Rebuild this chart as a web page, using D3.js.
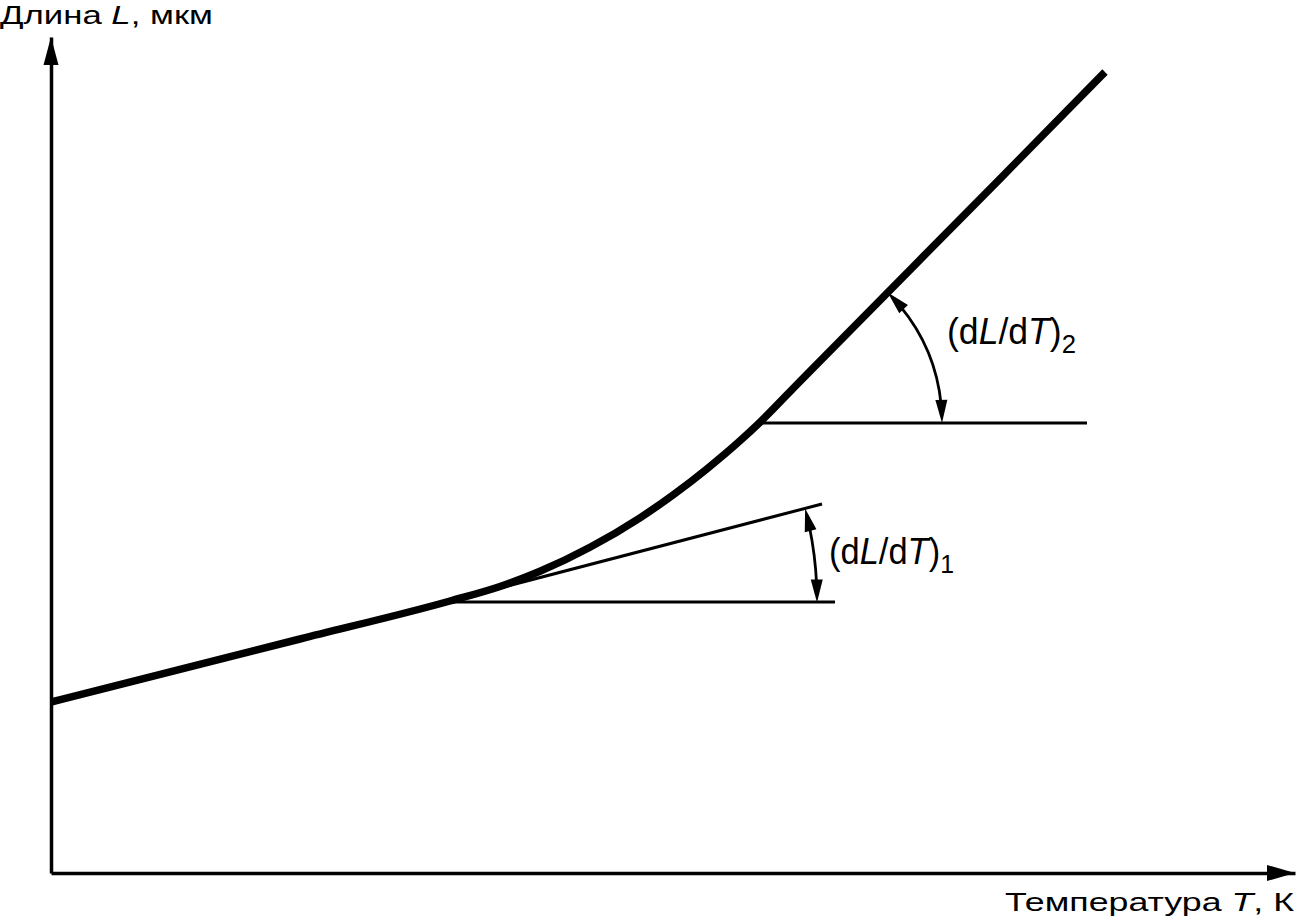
<!DOCTYPE html>
<html>
<head>
<meta charset="utf-8">
<script src="https://cdn.jsdelivr.net/npm/d3@7"></script>
<style>
  html, body { margin: 0; padding: 0; background: #fff; }
  svg { display: block; }
  text { font-family: "Liberation Sans", Arial, sans-serif; fill: #000; }
</style>
</head>
<body>
<svg id="chart" width="1297" height="924"></svg>
<script>
// ---- data (arbitrary units) ----
const curveT = [0, 24.9, 39.9, 44.9, 48.9, 53.9, 58.9, 62.2, 65.6, 68.9, 70.9, 74.9, 94.9, 105.4];
const curveL = [17.1, 23.4, 27.2, 28.65, 30.17, 32.57, 35.52, 37.8, 40.42, 43.22, 45.08, 49.17, 69.42, 80.1];

// tangent at first transition point
const tangent1T = [39.9, 77.1];
const tangent1L = [27.2, 36.9];
// horizontal reference lines
const horiz1T = [39.9, 78.4];
const horiz1L = [27.1, 27.1];
const horiz2T = [70.9, 103.6];
const horiz2L = [45.0, 45.0];
// second slope (the upper straight part of the curve)
const slope2T = [70.9, 105.4];
const slope2L = [45.08, 80.1];
// angle arc radii (in T units)
const arc1R = 36.7;
const arc2R = 18.2;

const labelY = ["Длина ", "L", ", мкм"];
const labelX = ["Температура ", "T", ", К"];

// ---- scales ----
const x = d3.scaleLinear().domain([0, 124.4]).range([51, 1295]);
const y = d3.scaleLinear().domain([0, 83.6]).range([873, 37]);

const svg = d3.select("#chart");

// axes (no ticks, just the axis lines)
svg.append("g").attr("transform", `translate(${x(0)},0)`)
  .call(d3.axisLeft(y).tickValues([]).tickSizeOuter(0))
  .select(".domain").attr("stroke", "#000").attr("stroke-width", 3.5);
svg.append("g").attr("transform", `translate(0,${y(0)})`)
  .call(d3.axisBottom(x).tickValues([]).tickSizeOuter(0))
  .select(".domain").attr("stroke", "#000").attr("stroke-width", 3.5);

function arrowHead(tipX, tipY, dirX, dirY, len, half) {
  const n = Math.hypot(dirX, dirY); dirX /= n; dirY /= n;
  const bx = tipX - dirX * len, by = tipY - dirY * len;
  const px = -dirY, py = dirX;
  return `M${tipX},${tipY}L${bx + px * half},${by + py * half}L${bx - px * half},${by - py * half}Z`;
}
// axis arrowheads
svg.append("path").attr("d", arrowHead(x(0), y(83.6), 0, -1, 28, 7.5)).attr("fill", "#000");
svg.append("path").attr("d", arrowHead(x(124.4), y(0), 1, 0, 28, 8)).attr("fill", "#000");

// main curve
const pts = curveT.map((t, i) => [x(t), y(curveL[i])]);
svg.append("path")
  .attr("d", d3.line().curve(d3.curveMonotoneX)(pts))
  .attr("fill", "none").attr("stroke", "#000").attr("stroke-width", 7.5)
  .attr("stroke-linecap", "butt").attr("stroke-linejoin", "round");

// helper lines
function seg(ts, ls, w) {
  svg.append("line")
    .attr("x1", x(ts[0])).attr("y1", y(ls[0]))
    .attr("x2", x(ts[1])).attr("y2", y(ls[1]))
    .attr("stroke", "#000").attr("stroke-width", w);
}
seg(tangent1T, tangent1L, 3);
seg(horiz1T, horiz1L, 3.2);
seg(horiz2T, horiz2L, 3.2);

// angle arcs with double arrowheads
function angleArc(cT, cL, rT, lineT, lineL) {
  const cx = x(cT), cy = y(cL);
  const r = x(cT + rT) - x(cT);
  const a0 = Math.atan2(y(lineL[1]) - y(lineL[0]), x(lineT[1]) - x(lineT[0])); // negative (up)
  const a1 = 0.004;
  const len = 23, half = 6;
  const trim = len / r * 0.8;
  const p = d3.path();
  p.arc(cx, cy, r, a0 + trim, a1 - trim, false);
  svg.append("path").attr("d", p.toString())
    .attr("fill", "none").attr("stroke", "#000").attr("stroke-width", 2.8);
  const sx = cx + r * Math.cos(a0), sy = cy + r * Math.sin(a0);
  const am = a0 + len / r * 0.5;
  const smx = cx + r * Math.cos(am), smy = cy + r * Math.sin(am);
  svg.append("path").attr("d", arrowHead(sx, sy, sx - smx, sy - smy, len, half)).attr("fill", "#000");
  const ex = cx + r * Math.cos(a1), ey = cy + r * Math.sin(a1);
  const an = a1 - len / r * 0.5;
  const emx = cx + r * Math.cos(an), emy = cy + r * Math.sin(an);
  svg.append("path").attr("d", arrowHead(ex, ey, ex - emx, ey - emy, len, half)).attr("fill", "#000");
}
angleArc(tangent1T[0], tangent1L[0], arc1R, tangent1T, tangent1L);
angleArc(slope2T[0], slope2L[0], arc2R, slope2T, slope2L);

// slope labels
function slopeLabel(px, py, sub, width) {
  const t = svg.append("text").attr("x", px).attr("y", py).attr("font-size", 36)
    .attr("textLength", width).attr("lengthAdjust", "spacingAndGlyphs");
  t.append("tspan").text("(d");
  t.append("tspan").attr("font-style", "italic").text("L");
  t.append("tspan").text("/d");
  t.append("tspan").attr("font-style", "italic").text("T");
  t.append("tspan").text(")");
  t.append("tspan").attr("font-size", 26).attr("dy", 9).text(sub);
}
slopeLabel(947, 344, "2", 129);
slopeLabel(829, 564, "1", 125);

// axis titles
function axisTitle(parts, px, py, anchor, width) {
  const t = svg.append("text").attr("x", px).attr("y", py).attr("font-size", 26.5)
    .attr("text-anchor", anchor)
    .attr("textLength", width).attr("lengthAdjust", "spacingAndGlyphs");
  t.append("tspan").text(parts[0]);
  t.append("tspan").attr("font-style", "italic").text(parts[1]);
  t.append("tspan").text(parts[2]);
}
axisTitle(labelY, 0, 24, "start", 213);
axisTitle(labelX, 1294, 911, "end", 289);
</script>
</body>
</html>
